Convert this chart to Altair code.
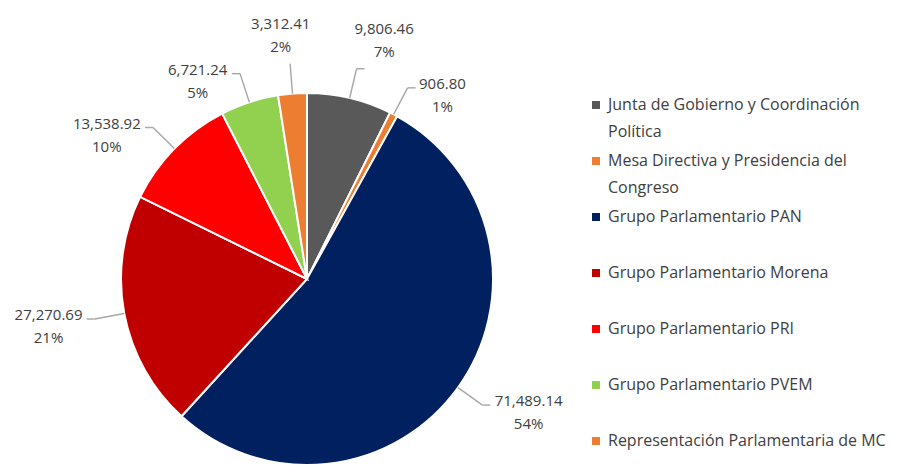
import math
import textwrap
import altair as alt
import pandas as pd

# ---- data ----
CATEGORIES = [
    "Junta de Gobierno y Coordinación Política",
    "Mesa Directiva y Presidencia del Congreso",
    "Grupo Parlamentario PAN",
    "Grupo Parlamentario Morena",
    "Grupo Parlamentario PRI",
    "Grupo Parlamentario PVEM",
    "Representación Parlamentaria de MC",
]
VALUES = [9806.46, 906.80, 71489.14, 27270.69, 13538.92, 6721.24, 3312.41]
PERCENTS = ["7%", "1%", "54%", "21%", "10%", "5%", "2%"]
COLORS = ["#595959", "#ED7D31", "#002060", "#C00000", "#FF0000", "#92D050", "#ED7D31"]

# ---- layout constants ----
CX, CY, R = 299, 271, 186          # pie centre / radius (plot coords)
RE = R + 30                        # leader-line elbow radius
LEG_X, LEG_Y0, LEG_STEP = 588, 97, 56
TEXT_COLOR = "#404040"
FONT = "Open Sans"

wrapped = [textwrap.wrap(c, 34) for c in CATEGORIES]
df = pd.DataFrame({
    "category": CATEGORIES,
    "value": VALUES,
    "pct": PERCENTS,
    "order": list(range(len(CATEGORIES))),
    "leg1": [w[0] for w in wrapped],
    "leg2": [w[1] if len(w) > 1 else "" for w in wrapped],
})

base = (
    alt.Chart(df)
    .transform_joinaggregate(total="sum(value)")
    .transform_window(cum="sum(value)", sort=[alt.SortField("order")], frame=[None, 0])
    .transform_calculate(
        mid="2*PI*(datum.cum - datum.value/2)/datum.total",
        vlabel="format(datum.value, ',.2f')",
    )
    .transform_calculate(sx="sin(datum.mid)", cy="cos(datum.mid)")
    .transform_calculate(
        x0=f"{CX} + {R}*datum.sx",
        y0=f"{CY} - {R}*datum.cy",
        x1=f"{CX} + {RE}*datum.sx",
        y1=f"{CY} - {RE}*datum.cy",
        side="datum.sx >= 0 ? 1 : -1",
        top="abs(datum.sx) < 0.3",
    )
    .transform_calculate(
        x2="abs(datum.sx) < 0.15 ? datum.x1 : datum.x1 + datum.side*8",
    )
    .transform_calculate(
        lx="datum.top ? datum.x1 + datum.sx*120 : datum.x2 + datum.side*(4 + length(datum.vlabel)*3.8)",
        ly1="datum.top ? datum.y1 - 40 : datum.y1 - 4",
    )
    .transform_calculate(ly2="datum.ly1 + 23")
    .transform_calculate(
        lgx=f"{LEG_X}",
        lgy=f"{LEG_Y0} + datum.order*{LEG_STEP}",
    )
    .transform_calculate(lgy2="datum.lgy + 26.5")
)

color = alt.Color(
    "category:N",
    scale=alt.Scale(domain=CATEGORIES, range=COLORS),
    legend=None,
)

pie = base.mark_arc(radius=R, stroke="white", strokeWidth=2).encode(
    theta=alt.Theta("value:Q", stack=True),
    order=alt.Order("order:Q"),
    color=color,
    x=alt.value(CX),
    y=alt.value(CY),
)

lead1 = base.mark_rule(color="#A6A6A6", strokeWidth=1.4).encode(
    x=alt.X("x0:Q", scale=None),
    y=alt.Y("y0:Q", scale=None),
    x2="x1:Q",
    y2="y1:Q",
)
lead2 = base.mark_rule(color="#A6A6A6", strokeWidth=1.4).encode(
    x=alt.X("x1:Q", scale=None),
    y=alt.Y("y1:Q", scale=None),
    x2="x2:Q",
    y2="y1:Q",
)

val_text = base.mark_text(font=FONT, fontSize=15, color=TEXT_COLOR, baseline="middle").encode(
    x=alt.X("lx:Q", scale=None),
    y=alt.Y("ly1:Q", scale=None),
    text="vlabel:N",
)
pct_text = base.mark_text(font=FONT, fontSize=15, color=TEXT_COLOR, baseline="middle").encode(
    x=alt.X("lx:Q", scale=None),
    y=alt.Y("ly2:Q", scale=None),
    text="pct:N",
)

leg_sym = base.mark_square(size=64, opacity=1).encode(
    x=alt.X("lgx:Q", scale=None),
    y=alt.Y("lgy:Q", scale=None),
    color=color,
)
leg_t1 = base.mark_text(font=FONT, fontSize=16, color=TEXT_COLOR, align="left", baseline="middle", dx=12).encode(
    x=alt.X("lgx:Q", scale=None),
    y=alt.Y("lgy:Q", scale=None),
    text="leg1:N",
)
leg_t2 = base.mark_text(font=FONT, fontSize=16, color=TEXT_COLOR, align="left", baseline="middle", dx=12).encode(
    x=alt.X("lgx:Q", scale=None),
    y=alt.Y("lgy2:Q", scale=None),
    text="leg2:N",
)

chart = (
    alt.layer(pie, lead1, lead2, val_text, pct_text, leg_sym, leg_t1, leg_t2)
    .properties(width=891, height=457, padding=0, autosize="none", background="white")
    .configure_view(stroke=None)
)

chart.save("out.html", embed_options={"renderer": "svg", "actions": False})
